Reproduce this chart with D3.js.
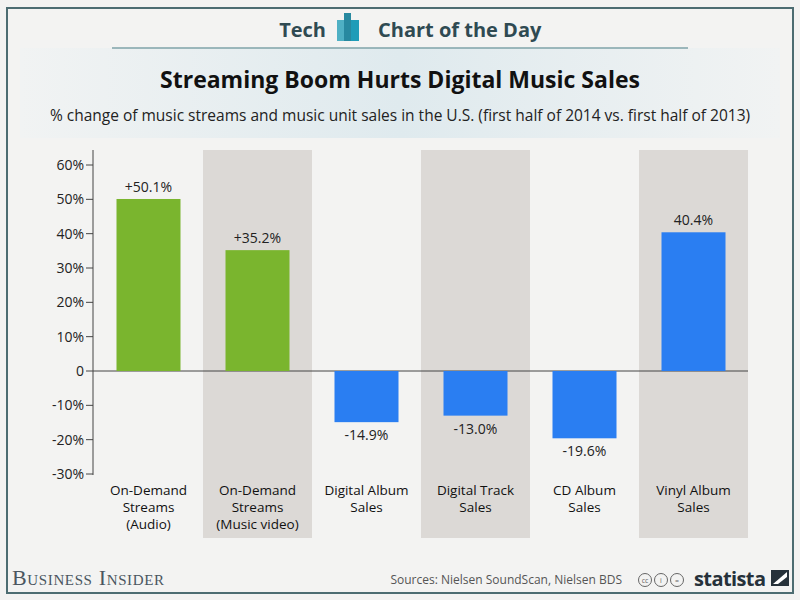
<!DOCTYPE html>
<html><head><meta charset="utf-8">
<script src="https://cdn.jsdelivr.net/npm/d3@7"></script>
<style>body{margin:0;background:#fff}text{font-family:"Open Sans",sans-serif}</style>
</head><body>
<script>
const categories = [["On-Demand","Streams","(Audio)"],["On-Demand","Streams","(Music video)"],["Digital Album","Sales"],["Digital Track","Sales"],["CD Album","Sales"],["Vinyl Album","Sales"]];
const values = [50.1, 35.2, -14.9, -13.0, -19.6, 40.4];
const valueLabels = ["+50.1%","+35.2%","-14.9%","-13.0%","-19.6%","40.4%"];
const barColors = ["#7ab52e","#7ab52e","#2a7ef2","#2a7ef2","#2a7ef2","#2a7ef2"];
const yTicks = [60,50,40,30,20,10,0,-10,-20,-30];

const svg = d3.select("body").append("svg").attr("width",800).attr("height",600);
svg.append("rect").attr("width",800).attr("height",600).attr("fill","#f3f3f2");
const defs = svg.append("defs");
const g1 = defs.append("linearGradient").attr("id","hd").attr("x1",0).attr("x2",1);
g1.append("stop").attr("offset","0").attr("stop-color","#f1f3f3");
g1.append("stop").attr("offset","0.5").attr("stop-color","#dfeaee");
g1.append("stop").attr("offset","1").attr("stop-color","#f1f3f3");
svg.append("rect").attr("x",20).attr("y",48).attr("width",760).attr("height",90).attr("fill","url(#hd)");
svg.append("rect").attr("x",7).attr("y",8).attr("width",786).attr("height",585).attr("fill","none").attr("stroke","#4d6d72").attr("stroke-width",2);

// header
svg.append("text").attr("x",326).attr("y",37).attr("text-anchor","end").attr("font-size",20).attr("font-weight",700).attr("fill","#2f4a52").text("Tech");
[[337,20,7,21],[344,13,7,28],[351,20,8,21]].forEach((r,i)=>svg.append("rect").attr("x",r[0]).attr("y",r[1]).attr("width",r[2]).attr("height",r[3]).attr("fill",["#4fb0c4","#2889a0","#1f9cb8"][i]));
svg.append("text").attr("x",378).attr("y",37).attr("font-size",20).attr("font-weight",700).attr("fill","#2f4a52").text("Chart of the Day");
svg.append("line").attr("x1",112).attr("x2",688).attr("y1",48).attr("y2",48).attr("stroke","#7fa3a8").attr("stroke-width",1.5);
svg.append("text").attr("x",400).attr("y",88).attr("text-anchor","middle").attr("font-size",23).attr("font-weight",700).attr("fill","#111").text("Streaming Boom Hurts Digital Music Sales");
svg.append("text").attr("x",400).attr("y",121).attr("text-anchor","middle").attr("font-size",15.5).attr("fill","#222").text("% change of music streams and music unit sales in the U.S. (first half of 2014 vs. first half of 2013)");

const x = d3.scaleBand().domain(d3.range(values.length)).range([94,748]).padding(0);
const y = d3.scaleLinear().domain([-30,60]).range([474,165]);

// alternating bands
svg.selectAll(".band").data(d3.range(values.length).filter(i=>i%2===1)).join("rect")
  .attr("x",i=>x(i)).attr("width",x.bandwidth()).attr("y",150).attr("height",388).attr("fill","#dcd9d6");

// axis
svg.selectAll(".yt").data(yTicks).join("text").attr("x",84).attr("y",d=>y(d)+5).attr("text-anchor","end")
  .attr("font-size",14).attr("fill","#222").text(d=>d===0?"0":d+"%");
svg.selectAll(".tk").data(yTicks).join("line").attr("x1",86).attr("x2",93).attr("y1",d=>y(d)).attr("y2",d=>y(d)).attr("stroke","#444");
svg.append("line").attr("x1",93).attr("x2",93).attr("y1",150).attr("y2",475).attr("stroke","#444");
svg.append("line").attr("x1",93).attr("x2",748).attr("y1",y(0)).attr("y2",y(0)).attr("stroke","#444");

const bw = 64;
svg.selectAll(".bar").data(values).join("rect")
  .attr("x",(d,i)=>x(i)+(x.bandwidth()-bw)/2).attr("width",bw)
  .attr("y",d=>y(Math.max(0,d))).attr("height",d=>Math.abs(y(d)-y(0))).attr("fill",(d,i)=>barColors[i]);
svg.selectAll(".vl").data(values).join("text")
  .attr("x",(d,i)=>x(i)+x.bandwidth()/2).attr("y",d=>d>=0?y(d)-7:y(d)+18)
  .attr("text-anchor","middle").attr("font-size",14).attr("fill","#222").text((d,i)=>valueLabels[i]);
categories.forEach((c,i)=>{
  c.forEach((line,j)=>svg.append("text").attr("x",x(i)+x.bandwidth()/2).attr("y",495+j*17)
    .attr("text-anchor","middle").attr("font-size",13.5).attr("fill","#111").text(line));
});

// footer
svg.append("text").attr("x",12).attr("y",585).style("font-family","'Liberation Serif',serif").style("font-variant","small-caps")
  .attr("font-size",22).attr("fill","#4a5660").attr("textLength",152).text("Business Insider");
svg.append("text").attr("x",622).attr("y",584).attr("text-anchor","end").attr("font-size",12).attr("fill","#555").text("Sources: Nielsen SoundScan, Nielsen BDS");
[["cc",645],["i",661],["=",677]].forEach(c=>{
  svg.append("circle").attr("cx",c[1]).attr("cy",580).attr("r",6.5).attr("fill","none").attr("stroke","#666");
  svg.append("text").attr("x",c[1]).attr("y",583).attr("text-anchor","middle").attr("font-size",7).attr("fill","#666").text(c[0]);
});
svg.append("text").attr("x",694).attr("y",586).attr("font-size",20).attr("font-weight",700).attr("fill","#26313a").attr("textLength",72).text("statista");
svg.append("rect").attr("x",771).attr("y",570).attr("width",18).attr("height",16).attr("fill","#26313a");
svg.append("path").attr("d","M773,584 L787,572 L787,577 L778,584 Z").attr("fill","#fff");
</script>
</body></html>
